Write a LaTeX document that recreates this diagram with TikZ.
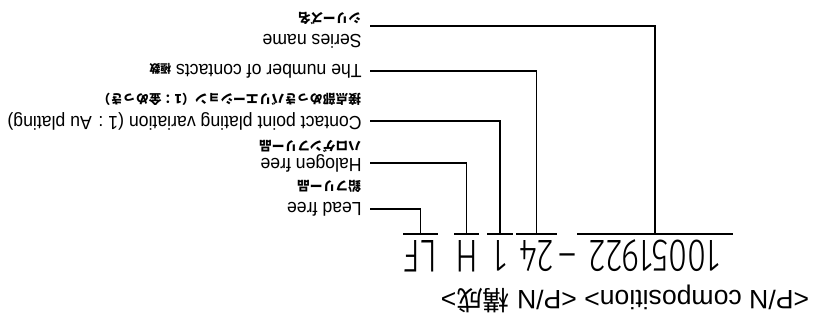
\documentclass[tikz,border=0pt]{standalone}
\usepackage{fontspec}
\setmainfont{Liberation Sans}
\newfontfamily\jpfont{Noto Sans CJK JP}
\newfontfamily\pnfont{Fira Sans Light}

\begin{document}
\begin{tikzpicture}[x=0.5pt,y=-0.5pt,line width=0.9pt,
  flip/.style={rotate=180,inner sep=0pt},
  pn/.style={flip,font=\fontsize{23}{23}\pnfont,xscale=0.75,
    text height=15.9pt,text depth=0pt,inner ysep=2.5pt,anchor=base},
  lbl/.style={flip,font=\fontsize{9.5}{10}\selectfont,xscale=0.93,
    inner xsep=4pt,anchor=west},
  jp/.style={flip,font=\fontsize{6.4}{7}\jpfont\bfseries,
    inner xsep=4pt,anchor=west}]
\useasboundingbox (0,0) rectangle (826,327);

% the part number (page is printed upside down)
\node[pn,minimum width=102.7pt] (pSeries) at (655,240) {10051922};
\node[pn] (pDash) at (568,240) {–};
\node[pn,minimum width=26pt] (pCont) at (536.5,240) {24};
\node[pn,minimum width=16pt] (pPlat) at (500,240) {1};
\node[pn,minimum width=15.3pt] (pHal) at (466.5,240) {H};
\node[pn,minimum width=22pt] (pLead) at (420.5,240) {LF};

\node[flip,font=\fontsize{13.3}{14}\selectfont] (pTitle) at (625,299)
  {<P/N composition> <P/N {\jpfont 構成}>};

% labels
\node[jp] (lSeriesJ) at (370,19) {シリーズ名};
\node[lbl] (lSeries) at (370,41) {Series name};
\node[lbl] (lCont) at (370,71)
  {The number of contacts {\jpfont\bfseries\fontsize{5.8}{6}\selectfont 極数}};
\node[jp] (lPlatJ) at (370,99) {接点部めっきバリエーション（1：金めっき）};
\node[lbl] (lPlat) at (370,121) {Contact point plating variation (1 : Au plating)};
\node[jp] (lHalJ) at (370,146) {ハロゲンフリー品};
\node[lbl] (lHal) at (370,163) {Halogen free};
\node[jp] (lLeadJ) at (370,186) {鉛フリー品};
\node[lbl] (lLead) at (370,209) {Lead free};

% ticks under each field
\draw
  (pSeries.south west) -- (pSeries.south east)
  (pCont.south west) -- (pCont.south east)
  (pPlat.south west) -- (pPlat.south east)
  (pHal.south west) -- (pHal.south east)
  (pLead.south west) -- (pLead.south east);

\draw
  (pSeries.south) |- (lSeriesJ.north west)
  (pCont.south) |- (lCont.west)
  (pPlat.south) |- (lPlat.west)
  (pHal.south) |- (lHal.west)
  (pLead.south) |- (lLead.west);
\end{tikzpicture}
\end{document}
